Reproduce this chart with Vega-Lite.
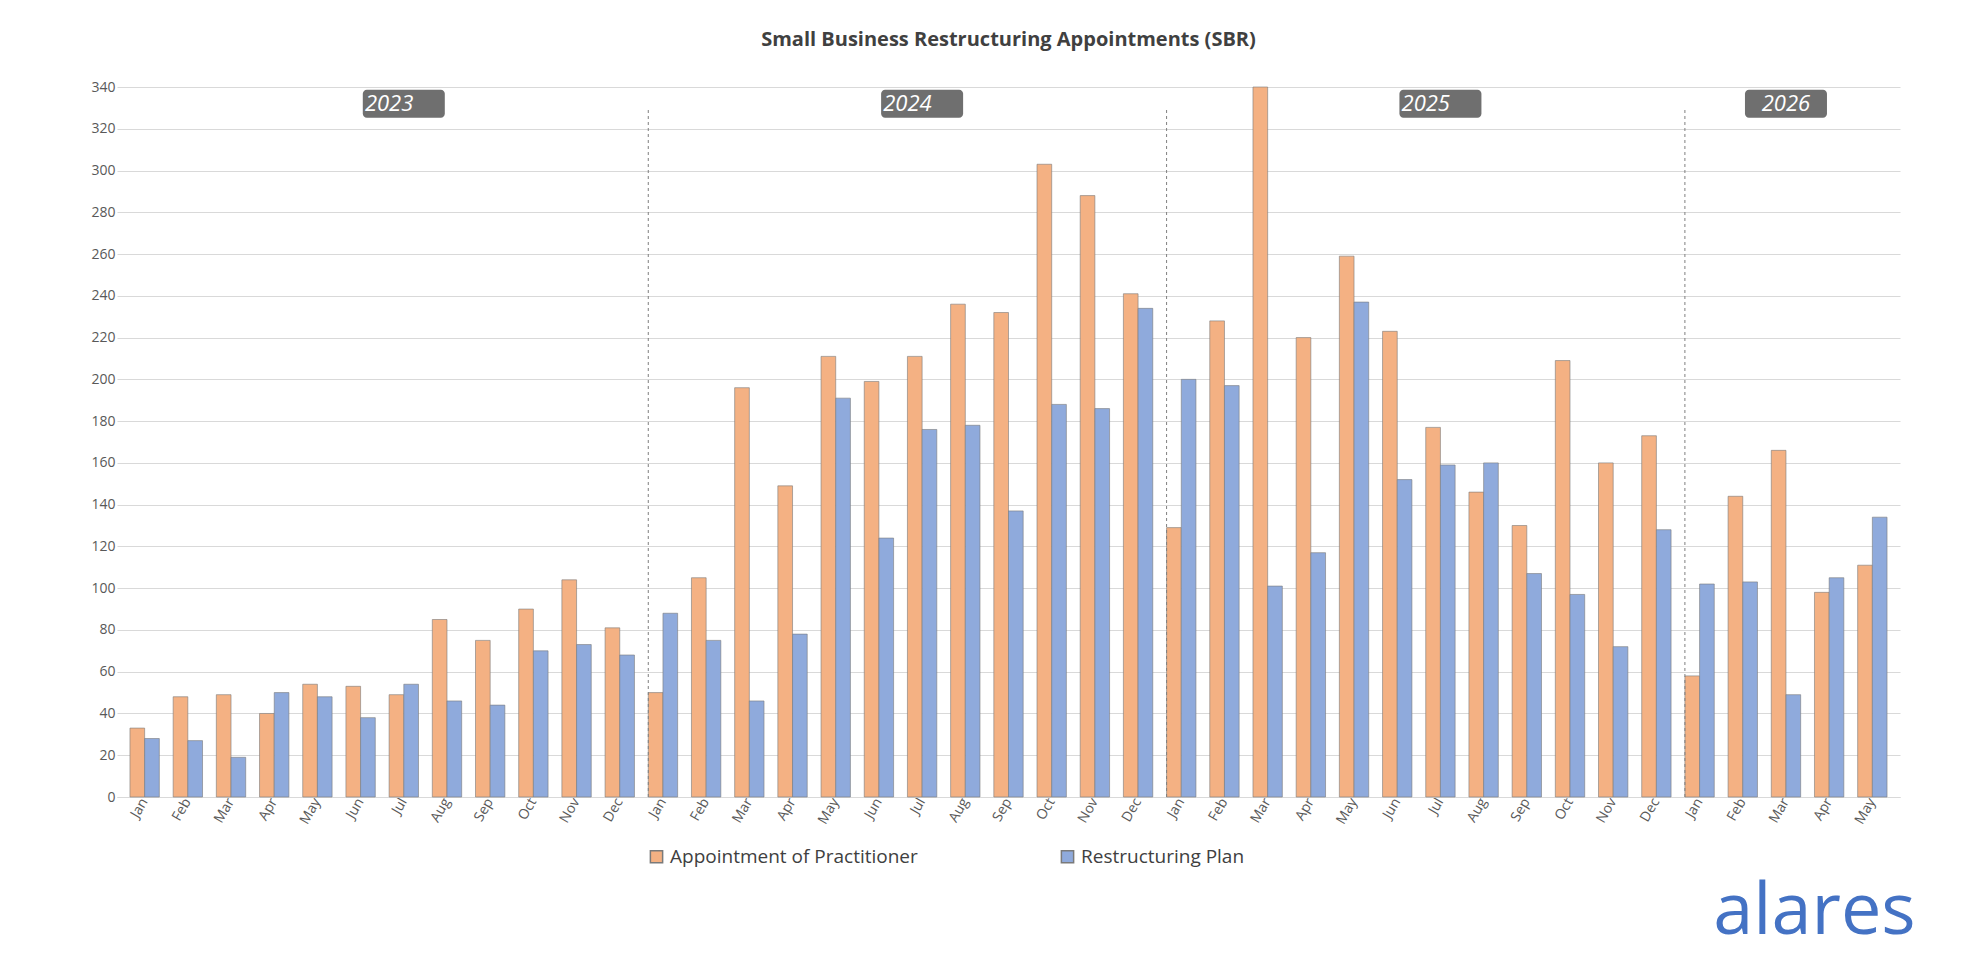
{
"$schema":"https://vega.github.io/schema/vega-lite/v6.json",
"width":1986,"height":968,
"autosize":{"type":"fit","contains":"padding"},
"padding":{"left":90,"right":80,"top":30,"bottom":20},
"background":"white",
"config":{"font":"Open Sans","view":{"stroke":null}},
"title":{"text":"Small Business Restructuring Appointments (SBR)","fontSize":20,"fontWeight":"bold","color":"#404040","offset":30},
"datasets":{
"d":[
{"k":"2023 Jan","o":33,"b":28},{"k":"2023 Feb","o":48,"b":27},{"k":"2023 Mar","o":49,"b":19},{"k":"2023 Apr","o":40,"b":50},{"k":"2023 May","o":54,"b":48},{"k":"2023 Jun","o":53,"b":38},{"k":"2023 Jul","o":49,"b":54},{"k":"2023 Aug","o":85,"b":46},{"k":"2023 Sep","o":75,"b":44},{"k":"2023 Oct","o":90,"b":70},{"k":"2023 Nov","o":104,"b":73},{"k":"2023 Dec","o":81,"b":68},
{"k":"2024 Jan","o":50,"b":88},{"k":"2024 Feb","o":105,"b":75},{"k":"2024 Mar","o":196,"b":46},{"k":"2024 Apr","o":149,"b":78},{"k":"2024 May","o":211,"b":191},{"k":"2024 Jun","o":199,"b":124},{"k":"2024 Jul","o":211,"b":176},{"k":"2024 Aug","o":236,"b":178},{"k":"2024 Sep","o":232,"b":137},{"k":"2024 Oct","o":303,"b":188},{"k":"2024 Nov","o":288,"b":186},{"k":"2024 Dec","o":241,"b":234},
{"k":"2025 Jan","o":129,"b":200},{"k":"2025 Feb","o":228,"b":197},{"k":"2025 Mar","o":340,"b":101},{"k":"2025 Apr","o":220,"b":117},{"k":"2025 May","o":259,"b":237},{"k":"2025 Jun","o":223,"b":152},{"k":"2025 Jul","o":177,"b":159},{"k":"2025 Aug","o":146,"b":160},{"k":"2025 Sep","o":130,"b":107},{"k":"2025 Oct","o":209,"b":97},{"k":"2025 Nov","o":160,"b":72},{"k":"2025 Dec","o":173,"b":128},
{"k":"2026 Jan","o":58,"b":102},{"k":"2026 Feb","o":144,"b":103},{"k":"2026 Mar","o":166,"b":49},{"k":"2026 Apr","o":98,"b":105},{"k":"2026 May","o":111,"b":134}
],
"years":[{"y":"2023","k":"2023 Jul"},{"y":"2024","k":"2024 Jul"},{"y":"2025","k":"2025 Jul"}],
"y26":[{"y":"2026","k":"2026 Mar"}],
"seps":[{"k":"2024 Jan"},{"k":"2025 Jan"},{"k":"2026 Jan"}]
},
"encoding":{
  "x":{"field":"k","type":"nominal","scale":{"paddingInner":0.32,"paddingOuter":0.3,"domain":["2023 Jan","2023 Feb","2023 Mar","2023 Apr","2023 May","2023 Jun","2023 Jul","2023 Aug","2023 Sep","2023 Oct","2023 Nov","2023 Dec","2024 Jan","2024 Feb","2024 Mar","2024 Apr","2024 May","2024 Jun","2024 Jul","2024 Aug","2024 Sep","2024 Oct","2024 Nov","2024 Dec","2025 Jan","2025 Feb","2025 Mar","2025 Apr","2025 May","2025 Jun","2025 Jul","2025 Aug","2025 Sep","2025 Oct","2025 Nov","2025 Dec","2026 Jan","2026 Feb","2026 Mar","2026 Apr","2026 May"]},
   "axis":{"title":null,"labelExpr":"substring(datum.value,5)","labelAngle":-60,"labelFontSize":14,"labelColor":"#595959","ticks":false,"domainColor":"#d9d9d9"}}
},
"layer":[
{"data":{"name":"d"},
 "transform":[{"fold":["o","b"],"as":["s","v"]},{"calculate":"datum.s=='o'?'Appointment of Practitioner':'Restructuring Plan'","as":"series"}],
 "mark":{"type":"bar","stroke":"#7a7a7a","strokeWidth":0.6},
 "encoding":{
  "xOffset":{"field":"series","sort":["Appointment of Practitioner","Restructuring Plan"]},
  "y":{"field":"v","type":"quantitative","scale":{"domain":[0,340],"nice":false},
   "axis":{"title":null,"values":[0,20,40,60,80,100,120,140,160,180,200,220,240,260,280,300,320,340],"labelOverlap":false,"labelFontSize":14,"labelColor":"#595959","gridColor":"#d9d9d9","domain":false,"ticks":false}},
  "color":{"field":"series","type":"nominal","scale":{"domain":["Appointment of Practitioner","Restructuring Plan"],"range":["#F4B183","#8FAADC"]},
   "legend":{"title":null,"orient":"none","legendX":530,"legendY":760,"direction":"horizontal","symbolType":"square","labelFontSize":19,"labelLimit":400,"labelColor":"#404040","symbolSize":150,"columnPadding":140}}
 }},
{"data":{"name":"seps"},"mark":{"type":"rule","strokeDash":[3,3],"color":"#7f7f7f"},
 "encoding":{"x":{"field":"k","type":"nominal","bandPosition":0},"y":{"datum":0},"y2":{"datum":330}}},
{"data":{"name":"years"},"mark":{"type":"rect","width":82,"height":28,"color":"#6f6f6f","cornerRadius":4},
 "encoding":{"x":{"field":"k","type":"nominal","bandPosition":0},"y":{"datum":332}}},
{"data":{"name":"years"},"mark":{"type":"text","color":"white","fontSize":22,"fontStyle":"italic","align":"center","baseline":"middle"},
 "encoding":{"x":{"field":"k","type":"nominal","bandPosition":0},"y":{"datum":332},"text":{"field":"y"}}},
{"data":{"name":"y26"},"mark":{"type":"rect","width":82,"height":28,"color":"#6f6f6f","cornerRadius":4},
 "encoding":{"x":{"field":"k","type":"nominal","bandPosition":0.5},"y":{"datum":332}}},
{"data":{"name":"y26"},"mark":{"type":"text","color":"white","fontSize":22,"fontStyle":"italic","align":"center","baseline":"middle"},
 "encoding":{"x":{"field":"k","type":"nominal","bandPosition":0.5},"y":{"datum":332},"text":{"field":"y"}}},
{"data":{"values":[{"t":"alares","k":"2026 Apr"}]},"mark":{"type":"text","fontSize":72,"color":"#4472C4","dy":115,"align":"center"},
 "encoding":{"x":{"field":"k","type":"nominal","bandPosition":0},"y":{"datum":0},"text":{"field":"t"}}}
]
}
